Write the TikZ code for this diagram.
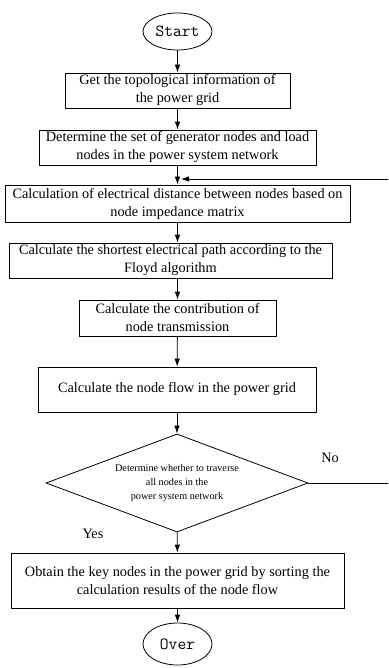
\documentclass[tikz,border=0pt]{standalone}
\usepackage{fontspec}
\setmainfont{Liberation Serif}
\usetikzlibrary{shapes.geometric}
\usetikzlibrary{arrows.meta}

\tikzset{
	box/.style={draw, rectangle, align=center, inner sep=0pt, font=\fontsize{14.3}{18}\selectfont},
	term/.style={draw, ellipse, inner sep=0pt, font=\ttfamily\fontsize{17}{20}\selectfont},
	test/.style={draw, diamond, aspect=2.67, inner sep=0pt, align=center, font=\fontsize{10.2}{14}\selectfont}
}

\begin{document}
\begin{tikzpicture}[>={Latex[length=8pt,width=5.5pt]}, x=1pt, y=-1pt, line width=0.8pt]
	\useasboundingbox (0,0) rectangle (388,668);
	\clip (0,0) rectangle (388,668);
	\node [term, minimum width=69pt, minimum height=37pt] (start) at (177.5,31.5) {Start};
	\node [box, minimum width=225pt, minimum height=35pt] (topo) at (177.5,90.5) {Get the topological information of\\the power grid};
	\node [box, minimum width=277pt, minimum height=35pt] (sets) at (177.5,147.5) {Determine the set of generator nodes and load\\nodes in the power system network};
	\node [box, minimum width=345pt, minimum height=37pt] (dist) at (177.5,203.5) {Calculation of electrical distance between nodes based on\\node impedance matrix};
	\node [box, minimum width=323pt, minimum height=35pt] (floyd) at (170.5,260.5) {Calculate the shortest electrical path according to the\\Floyd algorithm};
	\node [box, minimum width=197pt, minimum height=36pt] (contrib) at (177.5,318) {Calculate the contribution of\\node transmission};
	\node [box, minimum width=278pt, minimum height=45pt] (flow) at (177,389.5) {Calculate the node flow in the power grid};
	\node [test, minimum width=262pt, minimum height=98pt] (check) at (177,483) {Determine whether to traverse\\all nodes in the\\power system network};
	\node [box, minimum width=333pt, minimum height=55pt] (keynodes) at (177.5,580.5) {Obtain the key nodes in the power grid by sorting the\\calculation results of the node flow};
	\node [term, minimum width=69pt, minimum height=42pt] (over) at (177.5,644) {Over};

	\node [font=\fontsize{14.3}{16}\selectfont] (no) at (330,458) {No};
	\node [font=\fontsize{14.3}{16}\selectfont] (yes) at (93,534) {Yes};

	\draw [->] (start) -- (start |- topo.north);
	\draw [->] (topo) -- (topo |- sets.north);
	\draw [->] (sets) -- (sets |- dist.north);
	\draw [->] (dist) -- (dist |- floyd.north);
	\draw [->] (dist |- floyd.south) -- (contrib);
	\draw [->] (contrib) -- (flow);
	\draw [->] (flow) -- (check);
	\draw [->] (check) -- (keynodes);
	\draw [->] (keynodes) -- (over);

	\coordinate (join) at (181,179);
	\coordinate (back) at (392,483);
	\draw [->] (check.east) -- (back) |- (join);
\end{tikzpicture}
\end{document}
